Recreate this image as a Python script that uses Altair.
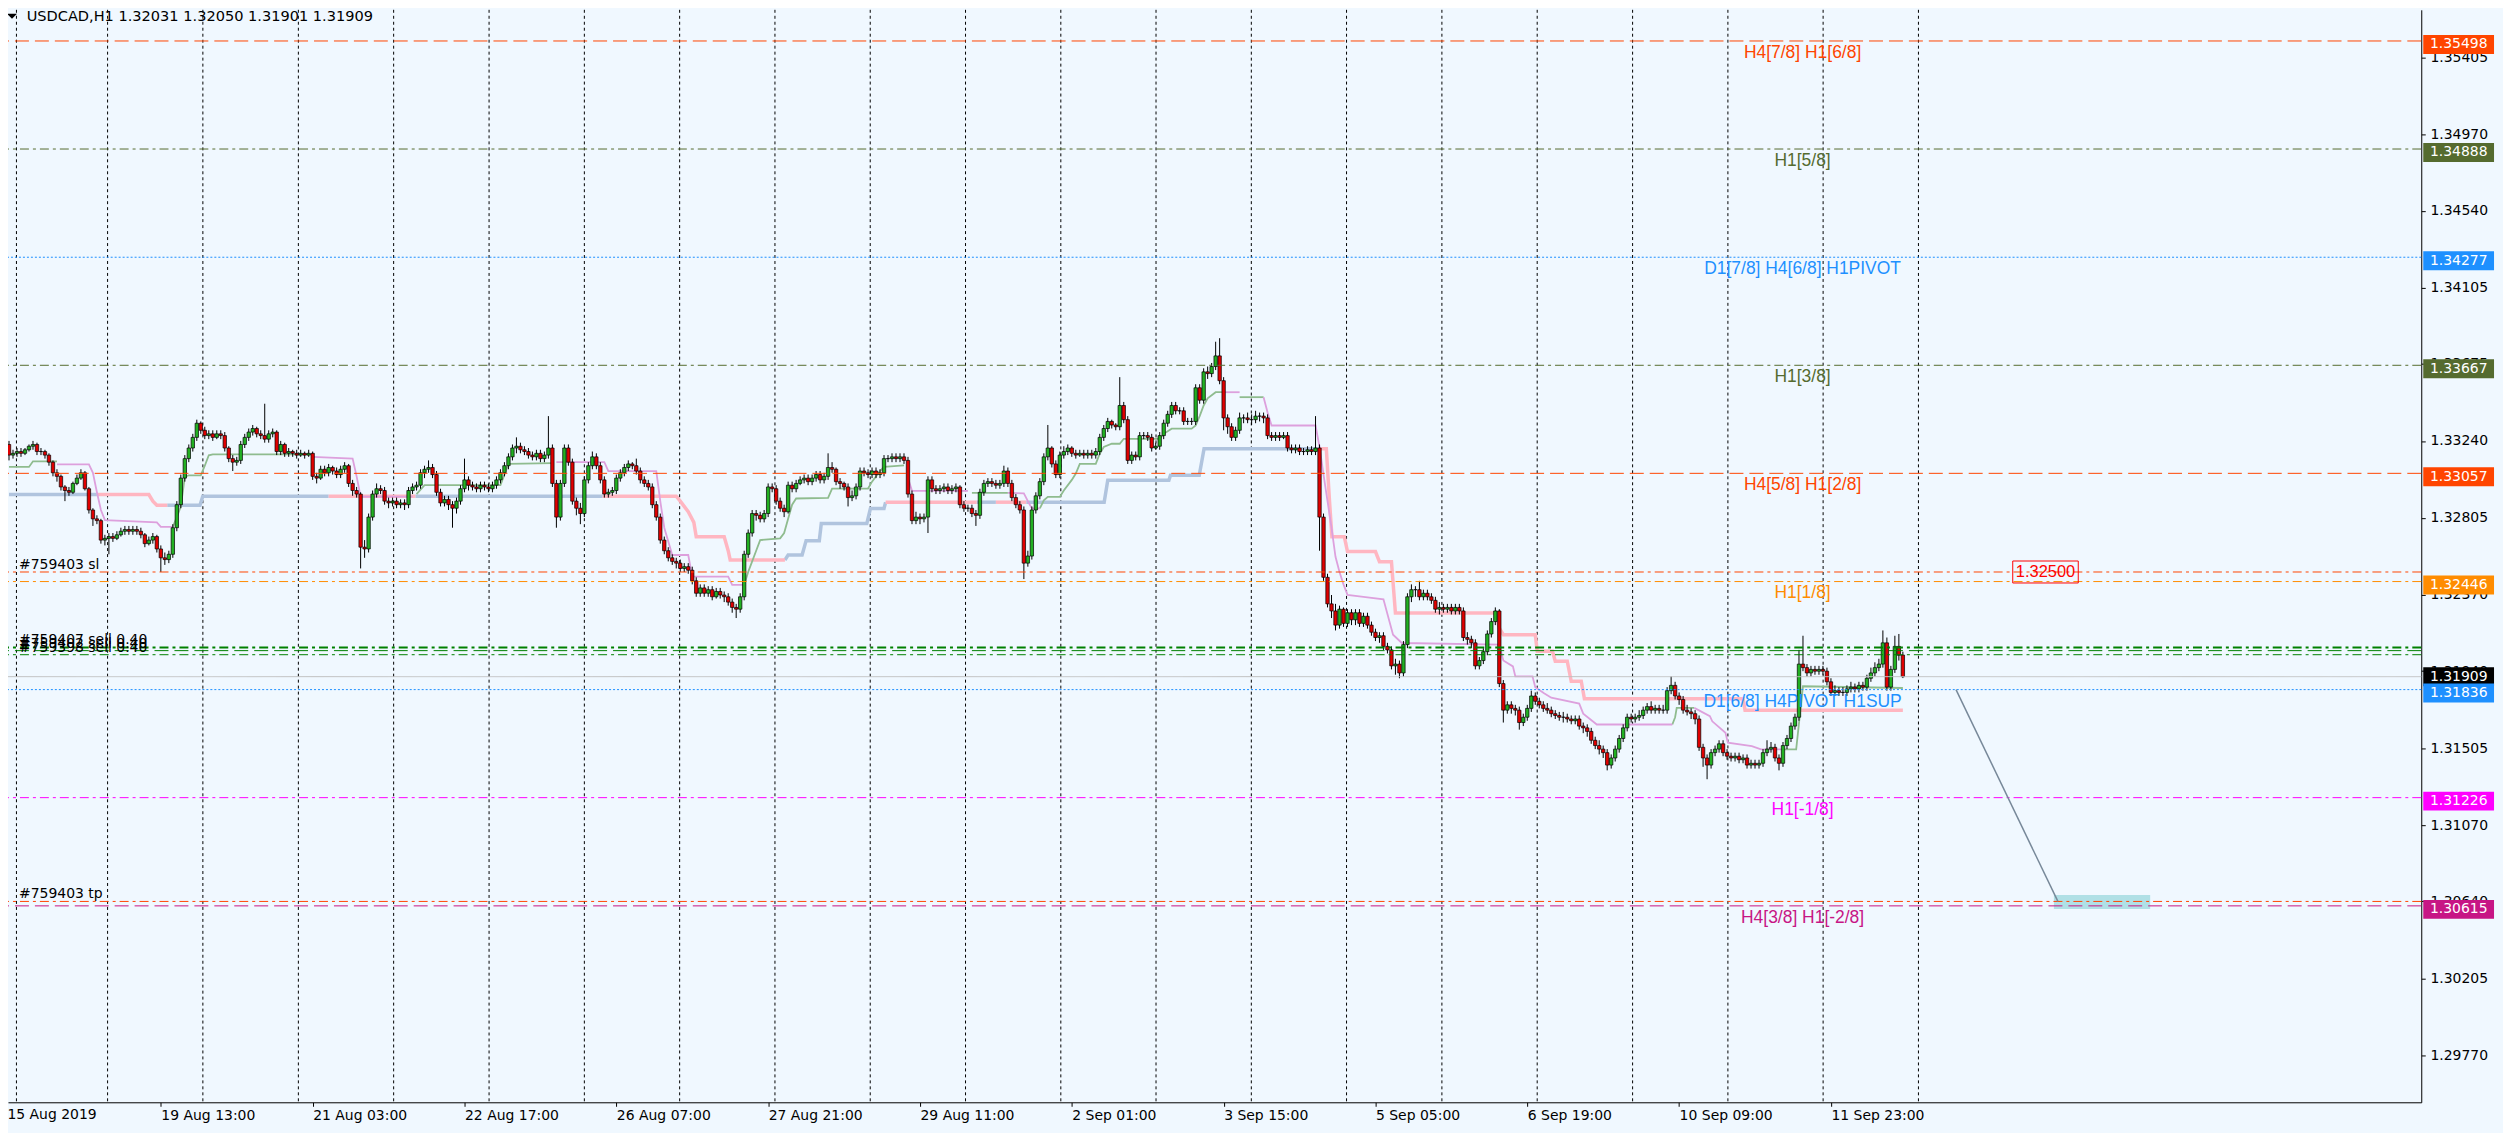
import altair as alt
import pandas as pd

# ---------------- candle data (pips above 1.30000, e.g. 203.1 -> 1.32031) ----------------
open_pips = [
 322,316,317,318,317,319,321,322,318,318,
 316,312,306,304,298,296,295,300,303,306,
 297,285,280,279,268,269,270,269,271,273,
 274,273,274,273,271,266,268,270,263,258,
 257,260,275,288,303,314,320,326,334,330,
 327,328,326,328,327,320,314,312,313,322,
 326,329,331,328,327,325,328,329,318,322,
 317,318,317,316,317,316,317,304,303,308,
 306,309,307,305,308,310,300,296,294,264,
 263,281,294,297,296,290,289,290,288,289,
 288,296,298,299,306,308,309,305,295,289,
 291,288,286,290,297,302,299,298,297,299,
 298,297,299,302,306,310,315,320,321,319,
 318,316,315,317,314,316,320,300,281,300,
 320,312,290,286,283,302,310,315,310,302,
 294,295,296,303,306,309,311,310,307,302,
 300,298,288,281,268,262,258,256,255,252,
 253,251,245,238,241,238,240,236,239,237,
 236,233,230,229,236,260,272,283,282,280,
 283,298,297,290,286,284,299,297,300,302,
 303,301,303,305,302,304,309,308,301,300,
 298,292,293,298,307,306,305,307,305,306,
 314,314,315,314,315,313,294,279,281,280,
 281,302,297,296,297,298,296,297,298,288,
 286,286,283,282,295,300,301,300,299,300,
 307,300,292,288,285,255,259,285,293,301,
 315,320,311,305,316,318,320,317,316,317,
 316,317,316,318,326,331,335,333,332,344,
 336,313,316,315,327,327,326,320,321,327,
 334,339,344,341,341,335,335,335,354,347,
 363,362,366,372,358,337,332,326,330,337,
 337,336,336,338,338,337,327,326,327,326,
 327,320,319,320,318,318,319,318,320,281,
 247,232,228,220,229,221,227,223,227,221,
 225,220,216,213,214,208,206,197,198,193,
 209,236,240,240,236,238,236,234,229,230,
 229,230,228,230,228,213,212,210,197,200,
 205,215,222,228,187,172,175,173,172,165,
 168,173,180,177,175,173,172,170,169,168,
 168,167,166,167,163,162,160,155,152,150,
 148,141,145,150,156,162,168,167,168,169,
 172,174,172,173,172,172,183,186,180,178,
 172,171,170,167,151,145,141,148,150,153,
 148,146,145,146,144,145,141,142,141,142,
 148,150,151,145,142,152,156,163,168,198,
 196,193,195,194,195,194,188,182,183,182,
 182,184,185,184,186,185,190,193,196,198,
 210,185,195,208,203.1,
]
high_pips = [
 324,319,320,320,320,322,324,323,320,319,
 317,313,308,305,299,298,301,305,308,307,
 298,286,282,280,271,272,272,273,275,276,
 276,276,276,275,272,270,272,271,265,261,
 262,277,290,305,316,322,328,336,335,332,
 330,330,330,330,329,321,316,315,324,328,
 331,333,332,330,345,330,331,330,324,323,
 320,319,319,319,318,319,318,306,310,310,
 311,310,309,310,312,311,302,298,295,268,
 283,296,300,299,298,292,292,292,291,291,
 298,300,301,308,310,313,311,307,297,293,
 293,290,292,299,314,304,301,300,301,301,
 300,301,304,308,312,317,322,326,323,321,
 320,318,319,319,318,338,322,302,302,322,
 322,314,292,289,304,312,318,317,312,304,
 297,298,305,308,311,313,312,314,309,304,
 302,300,290,283,270,264,260,258,257,255,
 255,253,247,243,243,242,242,241,241,239,
 238,235,232,238,262,274,285,285,284,285,
 300,300,299,292,288,301,301,302,304,305,
 305,305,307,307,306,317,312,309,303,301,
 300,296,300,309,309,308,309,309,308,316,
 316,317,317,317,317,315,296,284,283,283,
 304,304,299,299,300,300,299,300,299,290,
 288,288,285,297,302,303,303,302,302,310,
 309,302,294,290,287,262,287,295,303,317,
 333,321,313,318,321,322,321,319,319,319,
 319,319,320,328,333,337,336,334,360,346,
 338,318,318,329,329,329,328,323,329,336,
 341,346,346,343,343,337,337,356,356,365,
 366,368,380,382,360,339,334,332,340,339,
 340,339,341,340,340,339,329,329,329,329,
 329,322,322,322,320,321,321,338,322,283,
 249,237,232,231,230,229,229,229,229,227,
 227,222,218,216,216,210,208,201,200,211,
 238,243,242,245,240,240,238,236,233,232,
 232,232,232,232,230,216,214,212,202,207,
 217,224,230,229,189,177,177,175,174,170,
 175,183,182,179,177,176,174,172,171,171,
 170,169,169,169,165,164,162,157,155,152,
 150,147,152,158,164,170,170,170,172,174,
 176,177,175,175,175,185,191,188,182,180,
 175,173,172,169,153,147,150,152,155,155,
 150,148,148,148,147,147,144,144,144,150,
 155,154,153,147,154,158,165,170,206,214,
 198,197,197,197,197,196,190,186,185,185,
 186,188,187,188,188,192,196,199,201,217,
 213,197,214,215,205.0,
]
low_pips = [
 313,314,315,315,316,318,319,316,316,314,
 310,304,301,296,290,293,294,299,302,296,
 283,276,277,266,265,260,267,268,270,271,
 271,271,271,269,264,265,266,261,250,254,
 255,258,273,286,301,312,318,324,328,325,
 325,324,325,325,318,312,307,310,311,320,
 324,327,326,325,323,323,326,316,316,315,
 315,315,314,315,314,315,302,300,302,304,
 304,305,303,303,306,298,293,292,252,258,
 261,279,292,294,288,286,287,286,286,285,
 286,294,296,297,303,306,303,293,287,287,
 285,275,283,288,295,296,296,295,295,296,
 295,295,297,300,304,308,313,317,317,316,
 314,313,313,312,312,314,298,275,279,298,
 310,288,282,277,281,300,308,308,300,292,
 292,293,294,301,304,307,308,305,300,298,
 296,286,279,266,260,256,254,252,250,250,
 249,243,236,236,236,236,234,235,235,233,
 231,227,224,227,234,258,270,279,278,278,
 281,295,288,284,281,283,295,295,299,300,
 299,299,301,300,300,302,306,299,297,296,
 287,290,291,296,304,303,303,303,303,304,
 312,312,312,312,311,292,277,277,277,278,
 272,295,294,294,295,294,294,295,286,284,
 284,281,276,280,293,298,298,297,297,298,
 298,290,286,283,246,253,257,283,291,299,
 313,309,303,303,314,316,315,314,315,314,
 314,314,314,316,324,329,331,330,330,334,
 311,311,313,313,325,324,318,319,319,325,
 332,337,339,339,333,333,333,333,345,345,
 359,360,364,356,330,328,324,324,328,334,
 334,333,334,335,334,325,324,324,324,325,
 318,317,317,316,316,316,316,316,262,245,
 230,224,217,218,219,219,220,220,219,219,
 218,214,211,210,206,204,195,192,190,191,
 207,233,236,234,234,234,232,227,226,227,
 227,226,226,226,211,209,207,195,195,198,
 203,213,220,185,165,170,170,169,161,163,
 166,171,175,173,171,170,168,167,166,165,
 165,164,164,161,159,157,153,150,147,145,
 138,139,143,148,154,160,165,165,166,167,
 170,170,170,170,170,170,181,178,175,170,
 169,167,164,149,140,133,139,146,148,146,
 144,143,143,142,142,139,139,139,139,140,
 146,148,143,138,140,150,154,161,166,194,
 191,191,192,192,192,186,180,180,180,180,
 180,182,182,182,183,183,188,191,194,196,
 183,183,193,200,190.1,
]
close_pips = [
 316,317,318,317,319,321,322,318,318,316,
 312,306,304,298,296,295,300,303,306,297,
 285,280,279,268,269,270,269,271,273,274,
 273,274,273,271,266,268,270,263,258,257,
 260,275,288,303,314,320,326,334,330,327,
 328,326,328,327,320,314,312,313,322,326,
 329,331,328,327,325,328,329,318,322,317,
 318,317,316,317,316,317,304,303,308,306,
 309,307,305,308,310,300,296,294,264,263,
 281,294,297,296,290,289,290,288,289,288,
 296,298,299,306,308,309,305,295,289,291,
 288,286,290,297,302,299,298,297,299,298,
 297,299,302,306,310,315,320,321,319,318,
 316,315,317,314,316,320,300,281,300,320,
 312,290,286,283,302,310,315,310,302,294,
 295,296,303,306,309,311,310,307,302,300,
 298,288,281,268,262,258,256,255,252,253,
 251,245,238,241,238,240,236,239,237,236,
 233,230,229,236,260,272,283,282,280,283,
 298,297,290,286,284,299,297,300,302,303,
 301,303,305,302,304,309,308,301,300,298,
 292,293,298,307,306,305,307,305,306,314,
 314,315,314,315,313,294,279,281,280,281,
 302,297,296,297,298,296,297,298,288,286,
 286,283,282,295,300,301,300,299,300,307,
 300,292,288,285,255,259,285,293,301,315,
 320,311,305,316,318,320,317,316,317,316,
 317,316,318,326,331,335,333,332,344,336,
 313,316,315,327,327,326,320,321,327,334,
 339,344,341,341,335,335,335,354,347,363,
 362,366,372,358,337,332,326,330,337,337,
 336,336,338,338,337,327,326,327,326,327,
 320,319,320,318,318,319,318,320,281,247,
 232,228,220,229,221,227,223,227,221,225,
 220,216,213,214,208,206,197,198,193,209,
 236,240,240,236,238,236,234,229,230,229,
 230,228,230,228,213,212,210,197,200,205,
 215,222,228,187,172,175,173,172,165,168,
 173,180,177,175,173,172,170,169,168,168,
 167,166,167,163,162,160,155,152,150,148,
 141,145,150,156,162,168,167,168,169,172,
 174,172,173,172,172,183,186,180,178,172,
 171,170,167,151,145,141,148,150,153,148,
 146,145,146,144,145,141,142,141,142,148,
 150,151,145,142,152,156,163,168,198,196,
 193,195,194,195,194,188,182,183,182,182,
 184,185,184,186,185,190,193,196,198,210,
 185,195,208,203,190.9,
]

# ---------------- indicator lines (bar, pips) ----------------
thin_green = [
 [(0,309.3),(5,309.3),(6,312.5),(12,312.5)],
 [(41,275.5),(42,281),(43,287),(44,303.7),(45,304.6),(48,304.6),(49,310),(50,315.9),(51,316.4),(75,316.4)],
 [(102,294),(104,299),(123,299),(124,305),(125,311),(136,311.5)],
 [(184,242.7),(185,250),(186,256),(187,262),(188,268),(193,269),(194,272),(195,280),(196,288),(197,291.5),(205,291.9),(206,297.1),(215,297.1),(216,301),(218,307),(219,309.3),(224,310.2)],
 [(241,294.7),(250,294.7)],
 [(258,285.9),(259,290.5),(260,292.4),(263,292.4),(264,296),(266,302),(267,305.6),(268,311),(272,311),(273,316.8),(274,320.6),(276,322.4),(278,322.4),(279,325.2),(288,325.2),(289,328),(291,330.9),(296,330.9),(297,332.7),(298,338),(299,344),(300,348),(302,351.5),(304,351.5)],
 [(308,348.7),(314,348.7)],
 [(416.3,163.9),(417,168),(417.4,173.3),(421.8,173.3)],
 [(444,149.9),(447.3,149.9),(449,185.5),(474,184.5)],
]
thin_plum = [
 [(12,310.8),(20,310.8),(21,306),(22,295),(23,285),(24,279.3),(37,278),(38,275.5),(41,275.5)],
 [(76,315),(86,314),(87,304),(88,292.5),(101,292.5)],
 [(137,312),(149,312),(150,307),(162,307),(163,290),(164,275),(166,259.6),(170,259.6),(171,247.4),(180,247.4),(181,242.7),(184,242.7)],
 [(225,303),(226,295.8),(240,295.8)],
 [(250,294.7),(254,294.4),(255,290),(256,285.9),(258,285.9)],
 [(304,351.5),(308,351.5)],
 [(314,348.7),(315,340),(316,332.7),(327,332.7),(328,320.6),(329,305),(330,290),(331,275),(332,258.6),(333,250),(334,243),(335,237.1),(339,236),(344,234.6),(346.4,214.6),(348.6,209.9),(373,209),(374,200),(376.4,196.7),(377,191.1),(381.3,191.1),(382,185),(384.1,181.7),(386,179),(393,175.7),(394,170),(397.4,163.9),(416.3,163.9)],
 [(421.8,173.3),(425.7,168.6),(426.3,165.7),(429.6,159.2),(430.2,153.6),(436.2,151.7),(438.5,149.9),(444,149.9)],
]
thick_blue = [
 [(0,293.7),(22,293.7)],
 [(39.6,287.7),(47.8,287.7),(48.5,292.8),(80,292.8)],
 [(101.7,292.8),(148.6,292.8)],
 [(194.2,256.8),(195,259.6),(198.5,259.6),(199.5,267.7),(202.8,267.7),(203.3,277.4),(214.7,277.4),(215.6,285.9),(219,285.9),(219.4,289.4)],
 [(242.2,289.4),(247,289.4)],
 [(254.6,289.4),(274.1,289.4),(275,301.8),(290.3,301.8),(290.7,304.6),(297.9,304.6),(299.1,319.6),(327.8,319.6)],
]
thick_pink = [
 [(22,293.7),(35,293.7),(36,290),(37,287.7),(39.6,287.7)],
 [(80,292.8),(101.7,292.8)],
 [(148.6,292.8),(167,292.8),(168,290),(170,284),(171.4,278),(172,269.9),(179,269.9),(180,262),(180.5,256.8),(194.2,256.8)],
 [(219.4,289.4),(242.2,289.4)],
 [(247,289.4),(254.6,289.4)],
 [(327.8,319.6),(329.7,319.6),(330.5,290),(331.1,269.9),(334.2,269.9),(335,261.5),(342,261.5),(343,255.8),(346,255.8),(347,226.8),(372,226.8),(373,218.3),(374,214.6),(382,214.6),(382.5,205.2),(386.3,205.2),(387,199.6),(390,199.6),(391,188.3),(393.5,188.3),(394.3,178.4),(434,178.4),(434.5,172),(474,172)],
]

# ---------------- horizontal levels ----------------
level_prices = [1.35498, 1.34888, 1.34277, 1.33667, 1.33057, 1.32500, 1.32446,
                1.32074, 1.32056, 1.32033, 1.31909, 1.31836, 1.31226, 1.30640, 1.30615]
level_colors = ["#ff4500", "#556b2f", "#1e90ff", "#556b2f", "#ff4500", "#ff4500", "#ff8c00",
                "#008000", "#008000", "#008000", "#c0c0c0", "#1e90ff", "#ff00ff", "#ff4500", "#c71585"]
level_styles = ["dash", "dashdot", "dot", "dashdot", "dash", "dashdot", "dashdot",
                "dashdot", "dash", "dashdot", "solid", "dot", "dashdot", "dashdot", "dash"]
level_widths = [1, 1, 1, 1, 1, 1, 1, 2, 1, 1, 1, 1, 1, 1, 1]

label_texts = ["H4[7/8] H1[6/8]", "H1[5/8]", "D1[7/8] H4[6/8] H1PIVOT", "H1[3/8]",
               "H4[5/8] H1[2/8]", "H1[1/8]", "D1[6/8] H4PIVOT H1SUP", "H1[-1/8]", "H4[3/8] H1[-2/8]"]
label_prices = [1.35498, 1.34888, 1.34277, 1.33667, 1.33057, 1.32446, 1.31836, 1.31226, 1.30615]
label_colors = ["#ff4500", "#556b2f", "#1e90ff", "#556b2f", "#ff4500", "#ff8c00", "#1e90ff", "#ff00ff", "#c71585"]
LABEL_BAR = 448.9

box_prices = [1.35498, 1.34888, 1.34277, 1.33667, 1.33057, 1.32446, 1.31836, 1.31226, 1.30615]
box_colors = ["#ff4500", "#556b2f", "#1e90ff", "#556b2f", "#ff4500", "#ff8c00", "#1e90ff", "#ff00ff", "#c71585"]
bid_price = 1.31909

order_texts = ["#759398 sell 0.40", "#759402 sell 0.40", "#759407 sell 0.40"]
order_prices = [1.32033, 1.32056, 1.32074]
sl_text, sl_price = "#759403 sl", 1.32500
tp_text, tp_price = "#759403 tp", 1.30640

y_ticks = [1.35405, 1.34970, 1.34540, 1.34105, 1.33675, 1.33240, 1.32805, 1.32370,
           1.31940, 1.31505, 1.31070, 1.30640, 1.30205, 1.29770]
x_tick_bars = [38, 76, 114, 152, 190, 228, 266, 304, 342, 380, 418, 456]
x_tick_labels = ["19 Aug 13:00", "21 Aug 03:00", "22 Aug 17:00", "26 Aug 07:00", "27 Aug 21:00",
                 "29 Aug 11:00", "2 Sep 01:00", "3 Sep 15:00", "5 Sep 05:00", "6 Sep 19:00",
                 "10 Sep 09:00", "11 Sep 23:00"]
first_label = "15 Aug 2019"
grid_bars = [1.86, 24.67, 48.52, 72.42, 96.27, 120.15, 144.0, 167.85, 191.7, 215.55, 239.4,
             263.25, 287.08, 310.93, 334.76, 358.63, 382.48, 406.36, 430.21, 454.04, 477.9]

trend_bars = [487.3, 512.8]
trend_prices = [1.31836, 1.30640]
target_bars = [511.8, 535.9]
target_prices = [1.30598, 1.30677]
alert_bars = [501.5, 517.9]
alert_prices = [1.32438, 1.32562]
alert_text = "1.32500"
title_text = "USDCAD,H1  1.32031 1.32050 1.31901 1.31909"

# ---------------- chart ----------------
W, H = 2421, 1096
xs = alt.Scale(domain=[0.994, 602.5], nice=False, zero=False)
ys = alt.Scale(domain=[1.29506, 1.35674], nice=False, zero=False)
DASH = {"dash": [14, 6], "dashdot": [9, 4, 3, 4], "dot": [2, 2], "solid": [1, 0]}
FONT = "DejaVu Sans"
LFONT = "Liberation Sans"


def price(v):
    return round(1.3 + v / 10000.0, 5)


label_expr = " : ".join(
    [f"datum.value == {b} ? '{t}'" for b, t in zip(x_tick_bars, x_tick_labels)]) + " : ''"
X_AX = alt.Axis(orient="bottom", values=x_tick_bars, labelExpr=label_expr, grid=False, title=None,
                tickSize=4, tickColor="black", domainColor="black", labelColor="black",
                labelFont=FONT, labelFontSize=14, labelAlign="left", labelBaseline="top",
                labelPadding=2, labelOverlap=False, labelFlush=False, zindex=0)
Y_AX = alt.Axis(orient="right", values=y_ticks, format=".5f", grid=False, title=None,
                tickSize=4, tickColor="black", domainColor="black",
                labelColor="black", labelFont=FONT, labelFontSize=14,
                labelPadding=4.7, labelAlign="left", labelBaseline="middle",
                labelOverlap=False, labelFlush=False, zindex=0)


def XF(field):
    return alt.X(field, scale=xs, axis=X_AX, title=None)


def YF(field):
    return alt.Y(field, scale=ys, axis=Y_AX, title=None)


def XD(v):
    return alt.XDatum(v, scale=xs, axis=X_AX, type="quantitative")


n = len(close_pips)
cdf = pd.DataFrame({
    "bar": list(range(n)),
    "o": [price(v) for v in open_pips],
    "h": [price(v) for v in high_pips],
    "l": [price(v) for v in low_pips],
    "c": [price(v) for v in close_pips],
})
cdf["dir"] = ["up" if c >= o else "down" for o, c in zip(cdf["o"], cdf["c"])]


def seg_df(segs, name):
    rows = []
    for si, seg in enumerate(segs):
        for k, (b, v) in enumerate(seg):
            rows.append({"seg": f"{name}{si}", "k": k, "bar": b, "p": price(v)})
    return pd.DataFrame(rows)


grid = alt.Chart(pd.DataFrame({"bar": grid_bars})).mark_rule(
    color="black", strokeWidth=1, strokeDash=[3, 3]).encode(x=XF("bar:Q"))


def ind_layer(segs, name, color, width):
    return alt.Chart(seg_df(segs, name)).mark_line(
        color=color, strokeWidth=width, clip=True).encode(
        x=XF("bar:Q"), y=YF("p:Q"), detail="seg:N", order="k:Q")


ind_blue = ind_layer(thick_blue, "b", "#b0c4de", 3.5)
ind_pink = ind_layer(thick_pink, "k", "#ffb6c1", 3.5)
ind_green = ind_layer(thin_green, "g", "#8fbc8f", 1.8)
ind_plum = ind_layer(thin_plum, "m", "#dda0dd", 1.8)

wicks = alt.Chart(cdf).mark_rule(color="black", strokeWidth=1, clip=True).encode(
    x=XF("bar:Q"), y=YF("l:Q"), y2="h:Q")
bodies = alt.Chart(cdf).mark_bar(size=3.4, stroke="black", strokeWidth=0.7, clip=True).encode(
    x=XF("bar:Q"), y=YF("o:Q"), y2="c:Q",
    fill=alt.Color("dir:N", scale=alt.Scale(domain=["up", "down"], range=["#22b022", "#e00000"]),
                   legend=None))

target = alt.Chart(pd.DataFrame({"b0": [target_bars[0]], "b1": [target_bars[1]],
                                 "p0": [target_prices[0]], "p1": [target_prices[1]]})).mark_rect(
    color="#b0e0e6").encode(x=XF("b0:Q"), x2="b1:Q", y=YF("p0:Q"), y2="p1:Q")
trend = alt.Chart(pd.DataFrame({"bar": trend_bars, "p": trend_prices})).mark_line(
    color="#778899", strokeWidth=1.5).encode(x=XF("bar:Q"), y=YF("p:Q"))

ldf = pd.DataFrame({"p": level_prices, "col": level_colors, "st": level_styles, "w": level_widths})
level_layers = []
for st in ["solid", "dot", "dash", "dashdot"]:
    sub = ldf[ldf["st"] == st]
    level_layers.append(alt.Chart(sub).mark_rule(strokeDash=DASH[st]).encode(
        y=YF("p:Q"), color=alt.Color("col:N", scale=None),
        strokeWidth=alt.StrokeWidth("w:Q", scale=None)))

labels = alt.Chart(pd.DataFrame({"t": label_texts, "p": label_prices, "col": label_colors})).mark_text(
    align="center", baseline="top", dy=3, font=LFONT, fontSize=17.5).encode(
    x=XD(LABEL_BAR), y=YF("p:Q"), text="t:N", color=alt.Color("col:N", scale=None))

order_lbl = alt.Chart(pd.DataFrame({"t": order_texts + [sl_text, tp_text],
                                    "p": order_prices + [sl_price, tp_price]})).mark_text(
    align="left", baseline="alphabetic", dy=-3, font=FONT, fontSize=14, color="black").encode(
    x=XD(2.5), y=YF("p:Q"), text="t:N")

alert_box = alt.Chart(pd.DataFrame({"b0": [alert_bars[0]], "b1": [alert_bars[1]],
                                    "p0": [alert_prices[0]], "p1": [alert_prices[1]]})).mark_rect(
    fillOpacity=0, stroke="#ff0000", strokeWidth=1).encode(
    x=XF("b0:Q"), x2="b1:Q", y=YF("p0:Q"), y2="p1:Q")
alert_lbl = alt.Chart(pd.DataFrame({"t": [alert_text], "p": [sl_price]})).mark_text(
    align="center", baseline="middle", font=LFONT, fontSize=16.5, color="#ff0000").encode(
    x=XD(sum(alert_bars) / 2), y=YF("p:Q"), text="t:N")

bdf = pd.DataFrame({"p": box_prices, "col": box_colors, "t": [f"{v:.5f}" for v in box_prices]})
bid_df = pd.DataFrame({"p": [bid_price], "t": [f"{bid_price:.5f}"]})
bid_box = alt.Chart(bid_df).mark_rule(strokeWidth=19, strokeCap="butt", color="black").encode(
    x=alt.value(W + 2), x2=alt.value(W + 73), y=YF("p:Q"))
bid_txt = alt.Chart(bid_df).mark_text(align="left", baseline="middle", font=FONT, fontSize=14,
                                      color="white").encode(
    x=alt.value(W + 8.7), y=YF("p:Q"), text="t:N")
boxes = alt.Chart(bdf).mark_rule(strokeWidth=19, strokeCap="butt", yOffset=3.5).encode(
    x=alt.value(W + 2), x2=alt.value(W + 73), y=YF("p:Q"), color=alt.Color("col:N", scale=None))
box_txt = alt.Chart(bdf).mark_text(align="left", baseline="middle", dy=3.5, font=FONT, fontSize=14,
                                   color="white").encode(
    x=alt.value(W + 8.7), y=YF("p:Q"), text="t:N")

first_lbl = alt.Chart(pd.DataFrame({"t": [first_label]})).mark_text(
    align="left", baseline="top", font=FONT, fontSize=14, color="black", dx=-1.6).encode(
    x=XD(0), y=alt.value(H + 6), text="t:N")
title = alt.Chart(pd.DataFrame({"t": [title_text]})).mark_text(
    align="left", baseline="middle", font=FONT, fontSize=14.6, color="black").encode(
    x=alt.value(18.7), y=alt.value(7), text="t:N")
tri = alt.Chart(pd.DataFrame({"t": [0]})).mark_point(
    shape="M-1,-0.5L1,-0.5L0,0.5Z", size=100, filled=True, color="black", opacity=1).encode(
    x=alt.value(4), y=alt.value(6.5))

chart = alt.layer(
    grid, ind_blue, ind_pink, ind_green, ind_plum, wicks, bodies, target,
    *level_layers, trend, labels, order_lbl, alert_box, alert_lbl,
    bid_box, bid_txt, boxes, box_txt, first_lbl, title, tri
).properties(
    width=W, height=H, background="#f0f8ff",
    padding={"left": 0, "top": 0, "right": 82, "bottom": 29},
    autosize=alt.AutoSizeParams(type="none"),
).configure_view(stroke=None).configure_axis(domainWidth=1, tickWidth=1)

chart.save("out.html", embed_options={"renderer": "svg", "actions": False})
